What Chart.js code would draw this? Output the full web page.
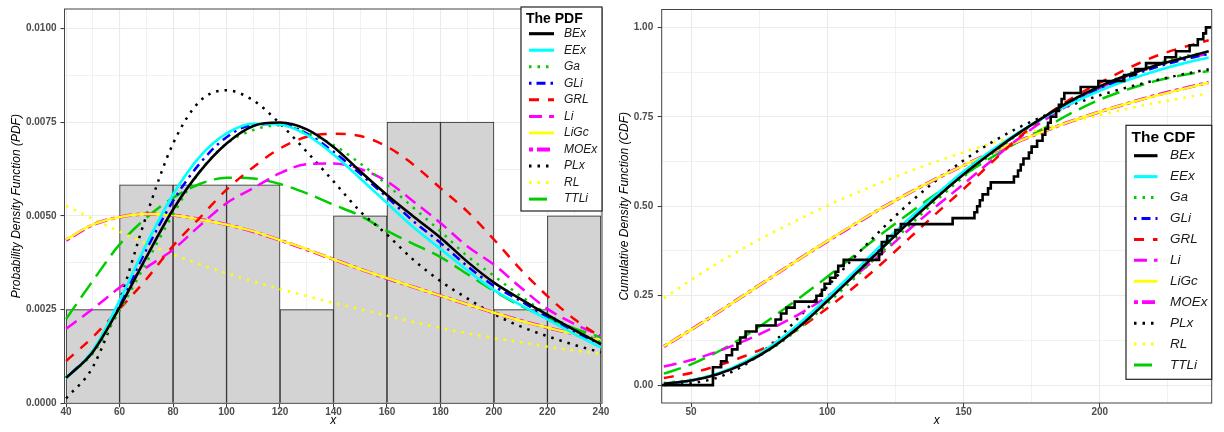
<!DOCTYPE html>
<html>
<head>
<meta charset="utf-8">
<script src="https://cdn.jsdelivr.net/npm/chart.js@4/dist/chart.umd.min.js"></script>
<style>
  body { margin: 0; background: #fff; }
  #wrap { position: relative; width: 1224px; height: 432px; }
  canvas { position: absolute; top: 0; }
</style>
</head>
<body>
<div id="wrap">
  <canvas id="pdfChart" width="612" height="432" style="left:0"></canvas>
  <canvas id="cdfChart" width="612" height="432" style="left:612px"></canvas>
</div>
<script>
// fitted models, in legend order
const models = ["BEx", "EEx", "Ga", "GLi", "GRL", "Li", "LiGc", "MOEx", "PLx", "RL", "TTLi"];

// points where the fitted curves were read
const xEval = [40, 50, 60, 70, 80, 90, 100, 110, 120, 130, 140, 150, 160, 170, 180, 190, 200, 210, 220, 230, 240];

// histogram of the sample (density scale)
const histEdges = [40, 60, 80, 100, 120, 140, 160, 180, 200, 220, 240];
const histDensity = [0.0025, 0.00583, 0.00583, 0.00583, 0.0025, 0.005, 0.0075, 0.0075, 0.0025, 0.005];

// PDF curves
const pdfBEx = [0.00068, 0.00137, 0.00256, 0.0039, 0.00517, 0.00618, 0.00693, 0.0074, 0.00749, 0.00731, 0.00684, 0.00619, 0.00556, 0.00498, 0.00442, 0.00378, 0.00322, 0.00278, 0.00236, 0.00196, 0.00158];
const pdfEEx = [0.00066, 0.00141, 0.00274, 0.00424, 0.00557, 0.00658, 0.0072, 0.00746, 0.00744, 0.00716, 0.00664, 0.006, 0.00534, 0.00469, 0.00412, 0.00355, 0.00302, 0.00262, 0.00224, 0.00185, 0.00149];
const pdfGa = [0.0007, 0.00133, 0.00247, 0.00375, 0.00504, 0.00618, 0.00693, 0.00729, 0.00742, 0.00722, 0.00689, 0.0064, 0.00583, 0.00521, 0.00459, 0.00393, 0.0034, 0.00286, 0.00238, 0.00198, 0.00163];
const pdfGLi = [0.00068, 0.0014, 0.00265, 0.0041, 0.0054, 0.0064, 0.0071, 0.00743, 0.00745, 0.0072, 0.00671, 0.00612, 0.0055, 0.00485, 0.00428, 0.00366, 0.00313, 0.00273, 0.00229, 0.00189, 0.00158];
const pdfGRL = [0.00113, 0.00177, 0.00252, 0.00331, 0.0042, 0.00495, 0.0057, 0.0063, 0.0068, 0.00711, 0.00719, 0.00713, 0.00685, 0.00636, 0.00574, 0.00512, 0.00437, 0.00357, 0.00286, 0.00225, 0.00176];
const pdfLi = [0.00199, 0.00252, 0.00309, 0.00362, 0.0041, 0.00474, 0.00534, 0.00574, 0.00614, 0.00638, 0.0064, 0.00625, 0.00592, 0.00538, 0.00481, 0.00419, 0.0037, 0.00309, 0.00252, 0.00212, 0.0018];
const pdfLiGc = [0.00437, 0.00477, 0.00497, 0.00505, 0.00502, 0.0049, 0.00477, 0.00459, 0.00435, 0.00411, 0.00384, 0.00358, 0.00334, 0.0031, 0.00287, 0.00264, 0.00242, 0.0022, 0.00202, 0.00185, 0.00167];
const pdfMOEx = [0.00435, 0.00476, 0.00497, 0.00505, 0.00502, 0.00491, 0.00477, 0.00458, 0.00435, 0.0041, 0.00384, 0.00358, 0.00333, 0.0031, 0.00287, 0.00264, 0.00242, 0.00221, 0.00202, 0.00185, 0.00168];
const pdfPLx = [0.00013, 0.00097, 0.00274, 0.005, 0.00693, 0.00806, 0.00835, 0.00808, 0.00746, 0.00671, 0.00592, 0.00512, 0.0045, 0.00382, 0.00326, 0.0028, 0.00238, 0.00205, 0.00179, 0.00156, 0.00136];
const pdfRL = [0.00527, 0.00492, 0.00458, 0.00426, 0.00397, 0.00371, 0.00347, 0.00325, 0.00305, 0.00286, 0.00268, 0.00251, 0.00234, 0.00217, 0.00201, 0.00187, 0.00174, 0.00163, 0.00151, 0.00141, 0.00132];
const pdfTTLi = [0.00225, 0.00327, 0.00424, 0.00495, 0.00548, 0.00585, 0.00602, 0.006, 0.00585, 0.0056, 0.0053, 0.005, 0.0046, 0.00425, 0.0039, 0.00345, 0.003, 0.0026, 0.00228, 0.002, 0.00176];

// CDF curves
const cdfBEx = [0.004, 0.013, 0.031, 0.062, 0.106, 0.165, 0.235, 0.308, 0.382, 0.455, 0.524, 0.589, 0.648, 0.703, 0.752, 0.797, 0.835, 0.866, 0.892, 0.913, 0.933];
const cdfEEx = [0.004, 0.013, 0.033, 0.066, 0.113, 0.174, 0.244, 0.318, 0.393, 0.465, 0.533, 0.597, 0.654, 0.705, 0.75, 0.789, 0.823, 0.852, 0.877, 0.898, 0.916];
const cdfGa = [0.006, 0.015, 0.032, 0.062, 0.104, 0.16, 0.228, 0.299, 0.372, 0.445, 0.516, 0.582, 0.644, 0.7, 0.751, 0.797, 0.836, 0.869, 0.896, 0.917, 0.932];
const cdfGLi = [0.004, 0.013, 0.032, 0.064, 0.11, 0.17, 0.24, 0.313, 0.387, 0.46, 0.529, 0.593, 0.651, 0.703, 0.75, 0.792, 0.829, 0.86, 0.887, 0.908, 0.926];
const cdfGRL = [0.02, 0.034, 0.055, 0.082, 0.115, 0.16, 0.215, 0.275, 0.34, 0.41, 0.48, 0.548, 0.62, 0.69, 0.752, 0.803, 0.845, 0.884, 0.918, 0.943, 0.964];
const cdfLi = [0.052, 0.07, 0.095, 0.125, 0.16, 0.2, 0.248, 0.305, 0.368, 0.435, 0.5, 0.562, 0.626, 0.688, 0.742, 0.789, 0.83, 0.864, 0.892, 0.912, 0.926];
const cdfLiGc = [0.109, 0.155, 0.204, 0.254, 0.304, 0.354, 0.403, 0.45, 0.495, 0.537, 0.577, 0.614, 0.649, 0.681, 0.711, 0.739, 0.764, 0.787, 0.808, 0.827, 0.845];
const cdfMOEx = [0.108, 0.155, 0.204, 0.254, 0.304, 0.354, 0.402, 0.449, 0.495, 0.537, 0.577, 0.614, 0.649, 0.681, 0.711, 0.739, 0.764, 0.787, 0.809, 0.828, 0.846];
const cdfPLx = [0.0, 0.005, 0.022, 0.058, 0.118, 0.193, 0.275, 0.358, 0.436, 0.508, 0.572, 0.628, 0.677, 0.719, 0.754, 0.784, 0.81, 0.832, 0.851, 0.868, 0.883];
const cdfRL = [0.243, 0.294, 0.342, 0.386, 0.427, 0.465, 0.502, 0.535, 0.567, 0.597, 0.625, 0.651, 0.675, 0.698, 0.718, 0.737, 0.755, 0.772, 0.788, 0.802, 0.816];
const cdfTTLi = [0.032, 0.058, 0.094, 0.138, 0.19, 0.245, 0.303, 0.363, 0.423, 0.48, 0.535, 0.587, 0.635, 0.68, 0.72, 0.762, 0.798, 0.826, 0.849, 0.866, 0.878];

// empirical CDF: jump positions and level after each jump
const ecdfX = [39, 58, 61, 63, 65, 67, 68, 70, 74, 81, 83, 85, 88, 96, 98, 99, 101, 103, 104, 106, 119, 120, 122, 125, 127, 146, 154, 155, 156, 157, 159, 160, 168.5, 170, 171, 172, 174, 175, 177, 179, 180, 181, 182, 184, 185, 186, 187, 193, 199.5, 209, 213, 217, 224, 228, 233, 236, 238, 239, 241];
const ecdfY = [0, 0.05, 0.0667, 0.0833, 0.1, 0.1167, 0.1333, 0.15, 0.1667, 0.1833, 0.2, 0.2167, 0.2333, 0.25, 0.2667, 0.2833, 0.3, 0.3167, 0.3333, 0.35, 0.3667, 0.4, 0.4167, 0.4333, 0.45, 0.4667, 0.4833, 0.5, 0.5167, 0.5333, 0.55, 0.5667, 0.5833, 0.6, 0.6167, 0.6333, 0.65, 0.6667, 0.6833, 0.7, 0.7167, 0.7333, 0.75, 0.7667, 0.7833, 0.8, 0.8167, 0.8333, 0.85, 0.8667, 0.8833, 0.9, 0.9167, 0.9333, 0.95, 0.9667, 0.9833, 1, 1];

const pdfValues = { BEx: pdfBEx, EEx: pdfEEx, Ga: pdfGa, GLi: pdfGLi, GRL: pdfGRL, Li: pdfLi, LiGc: pdfLiGc, MOEx: pdfMOEx, PLx: pdfPLx, RL: pdfRL, TTLi: pdfTTLi };
const cdfValues = { BEx: cdfBEx, EEx: cdfEEx, Ga: cdfGa, GLi: cdfGLi, GRL: cdfGRL, Li: cdfLi, LiGc: cdfLiGc, MOEx: cdfMOEx, PLx: cdfPLx, RL: cdfRL, TTLi: cdfTTLi };

const lineStyles = {
  BEx: { color: "#000000", dash: [], width: 2.6 },
  EEx: { color: "#00ffff", dash: [], width: 2.6 },
  Ga: { color: "#00cd00", dash: [2.5, 6], width: 2.5 },
  GLi: { color: "#0000ff", dash: [2.5, 5, 9, 5], width: 2.5 },
  GRL: { color: "#ff0000", dash: [10, 9], width: 2.5 },
  Li: { color: "#ff00ff", dash: [13, 7], width: 2.5 },
  LiGc: { color: "#ffff00", dash: [], width: 2.3 },
  MOEx: { color: "#ff00ff", dash: [4, 4, 13, 4], width: 3.3 },
  PLx: { color: "#000000", dash: [2.5, 6], width: 2.5 },
  RL: { color: "#ffff00", dash: [2.5, 6], width: 2.5 },
  TTLi: { color: "#00cd00", dash: [18, 8], width: 2.5 }
};

const fontFamily = "'Liberation Sans', Arial, sans-serif";
const tickFont = { family: fontFamily, size: 10, weight: "bold", lineHeight: 1 };
const titleFont = { family: fontFamily, size: 12, style: "italic", lineHeight: 1.2 };
const majorGrid = "#ebebeb";

const isMultiple = (v, step) => Math.abs(v / step - Math.round(v / step)) < 1e-6;

const lineDataset = (name, values) => ({
  type: "line",
  label: name,
  data: xEval.map((x, i) => ({ x, y: values[i] })),
  borderColor: lineStyles[name].color,
  borderWidth: lineStyles[name].width,
  borderDash: lineStyles[name].dash,
  pointRadius: 0,
  fill: false,
  cubicInterpolationMode: "monotone",
  clip: 0
});

const axisGrid = (major) => ({
  offset: false,
  color: majorGrid,
  lineWidth: (c) => (c.tick && isMultiple(c.tick.value, major) ? 1.1 : 0.7),
  tickColor: (c) => (c.tick && isMultiple(c.tick.value, major) ? "#333333" : "rgba(0,0,0,0)"),
  tickWidth: 1,
  tickLength: 4
});

const buildScales = (o) => ({
  x: {
    type: "linear",
    min: o.xMin,
    max: o.xMax,
    offset: false,
    afterFit: (s) => { s.height = o.xAxisHeight; },
    border: { display: false },
    grid: axisGrid(o.xMajor),
    ticks: {
      stepSize: o.xMajor / 2,
      includeBounds: false,
      autoSkip: false,
      maxRotation: 0,
      padding: 0,
      color: "#4d4d4d",
      font: tickFont,
      callback: (v) => (isMultiple(v, o.xMajor) ? String(Math.round(v)) : "")
    },
    title: { display: true, text: "x", color: "#000", font: titleFont, padding: { top: 0, bottom: 4 } }
  },
  y: {
    type: "linear",
    min: o.yMin,
    max: o.yMax,
    afterFit: (s) => { s.width = o.yAxisWidth; },
    border: { display: false },
    grid: axisGrid(o.yMajor),
    ticks: {
      stepSize: o.yMajor / 2,
      includeBounds: false,
      autoSkip: false,
      padding: o.yPad,
      color: "#4d4d4d",
      font: tickFont,
      callback: (v) => (isMultiple(v, o.yMajor) ? v.toFixed(o.yDigits) : "")
    },
    title: { display: true, text: o.yTitle, color: "#000", font: titleFont, padding: { top: o.yTitlePad, bottom: 0 } }
  }
});

// panel border and boxed legend, drawn on top of the data
const panelPlugin = {
  id: "panel",
  afterDatasetsDraw(chart, args, opts) {
    const { ctx, chartArea: a } = chart;
    const lg = opts.legend;
    ctx.save();
    ctx.strokeStyle = "#444";
    ctx.lineWidth = 1;
    ctx.strokeRect(a.left, a.top, a.right - a.left, a.bottom - a.top);

    ctx.fillStyle = "#ffffff";
    ctx.fillRect(lg.x, lg.y, lg.w, lg.h);
    ctx.strokeStyle = "#222";
    ctx.lineWidth = 1.2;
    ctx.strokeRect(lg.x, lg.y, lg.w, lg.h);

    ctx.fillStyle = "#000";
    ctx.textBaseline = "middle";
    ctx.textAlign = "left";
    ctx.font = `bold ${lg.titleSize}px ${fontFamily}`;
    ctx.fillText(lg.title, lg.titleX, lg.titleY);

    ctx.font = `italic ${lg.labelSize}px ${fontFamily}`;
    models.forEach((name, i) => {
      const y = lg.rowY + i * lg.rowStep;
      const st = lineStyles[name];
      ctx.beginPath();
      ctx.setLineDash(st.dash);
      ctx.lineWidth = st.width + 0.5;
      ctx.strokeStyle = st.color;
      ctx.moveTo(lg.lineX0, y);
      ctx.lineTo(lg.lineX1, y);
      ctx.stroke();
      ctx.setLineDash([]);
      ctx.fillStyle = "#1a1a1a";
      ctx.fillText(name, lg.textX, y);
    });
    ctx.restore();
  }
};

const histDataset = {
  type: "bar",
  label: "hist",
  data: histDensity.map((d, i) => ({ x: (histEdges[i] + histEdges[i + 1]) / 2, y: d })),
  backgroundColor: "#d3d3d3",
  borderColor: "#262626",
  borderWidth: 1,
  barThickness: "flex",
  barPercentage: 1,
  categoryPercentage: 1,
  order: 50
};

const ecdfDataset = {
  type: "line",
  label: "ECDF",
  data: ecdfX.map((x, i) => ({ x, y: ecdfY[i] })),
  borderColor: "#000000",
  borderWidth: 2.6,
  stepped: "before",
  pointRadius: 0,
  fill: false,
  clip: 0
};

new Chart(document.getElementById("pdfChart"), {
  type: "line",
  data: { datasets: [...models.map((m) => lineDataset(m, pdfValues[m])), histDataset] },
  options: {
    responsive: false,
    animation: false,
    events: [],
    layout: { padding: { left: 0, top: 7, right: 10, bottom: 0 } },
    plugins: {
      legend: { display: false },
      tooltip: { enabled: false },
      panel: {
        legend: {
          x: 521, y: 7, w: 81, h: 204,
          title: "The PDF", titleSize: 14, titleX: 526, titleY: 19,
          labelSize: 12, rowY: 33.7, rowStep: 16.54,
          lineX0: 529, lineX1: 554, textX: 564
        }
      }
    },
    scales: buildScales({
      xMin: 39.4, xMax: 240.4, xMajor: 20, xAxisHeight: 28.7,
      yMin: 0, yMax: 0.01052, yMajor: 0.0025, yDigits: 4, yAxisWidth: 64.5, yPad: 4,
      yTitle: "Probability Density Function (PDF)", yTitlePad: 9
    })
  },
  plugins: [panelPlugin]
});

new Chart(document.getElementById("cdfChart"), {
  type: "line",
  data: { datasets: [ecdfDataset, ...models.map((m) => lineDataset(m, cdfValues[m]))] },
  options: {
    responsive: false,
    animation: false,
    events: [],
    layout: { padding: { left: 0, top: 7, right: 12.3, bottom: 0 } },
    plugins: {
      legend: { display: false },
      tooltip: { enabled: false },
      panel: {
        legend: {
          x: 514, y: 125.3, w: 85.7, h: 254,
          title: "The CDF", titleSize: 15.5, titleX: 519.5, titleY: 137.5,
          labelSize: 13.5, rowY: 155.7, rowStep: 20.93,
          lineX0: 522, lineX1: 545.5, textX: 558
        }
      }
    },
    scales: buildScales({
      xMin: 39.2, xMax: 241.1, xMajor: 50, xAxisHeight: 29,
      yMin: -0.05, yMax: 1.05, yMajor: 0.25, yDigits: 2, yAxisWidth: 49.7, yPad: 4.5,
      yTitle: "Cumulative Density Function (CDF)", yTitlePad: 5
    })
  },
  plugins: [panelPlugin]
});
</script>
</body>
</html>
